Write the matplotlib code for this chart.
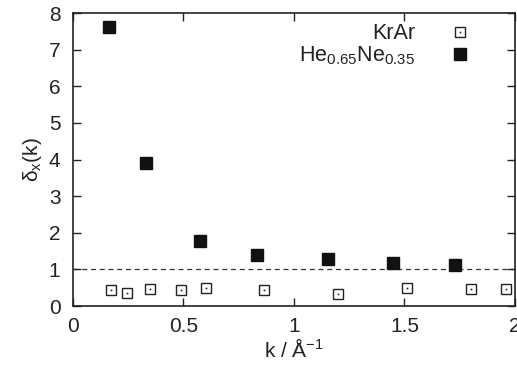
import matplotlib
matplotlib.use("Agg")
import matplotlib.pyplot as plt
from matplotlib.legend_handler import HandlerTuple

plt.rcParams['font.family'] = ['Liberation Sans', 'DejaVu Sans']
plt.rcParams['mathtext.fontset'] = 'custom'
plt.rcParams['mathtext.rm'] = 'Liberation Sans'
plt.rcParams['mathtext.it'] = 'Liberation Sans:italic'
plt.rcParams['mathtext.bf'] = 'Liberation Sans:bold'

# Data
krar_k = [0.172, 0.243, 0.347, 0.489, 0.600, 0.866, 1.200, 1.510, 1.800, 1.960]
krar_d = [0.43, 0.36, 0.47, 0.44, 0.49, 0.44, 0.32, 0.49, 0.47, 0.47]
hene_k = [0.163, 0.329, 0.573, 0.831, 1.155, 1.449, 1.727]
hene_d = [7.62, 3.91, 1.78, 1.39, 1.29, 1.18, 1.13]
xticks = [0, 0.5, 1, 1.5, 2]
xticklabels = ['0', '0.5', '1', '1.5', '2']
yticks = [0, 1, 2, 3, 4, 5, 6, 7, 8]

fig = plt.figure(figsize=(5.17, 3.76), dpi=100)
ax = fig.add_axes([0.141, 0.186, 0.855, 0.779])

ax.axhline(1.0, color='#333333', lw=0.9, ls=(0, (4, 3)), zorder=1)

sq, = ax.plot(krar_k, krar_d, ls='none', marker='s', ms=7.5, mfc='none',
              mec='#222222', mew=1.0, zorder=3)
dot, = ax.plot(krar_k, krar_d, ls='none', marker='s', ms=1.2, mfc='#222222',
               mec='none', zorder=3)
fill, = ax.plot(hene_k, hene_d, ls='none', marker='s', ms=8, mfc='#111111',
                mec='#111111', zorder=3)

ax.set_xlim(0, 2)
ax.set_ylim(0, 8)
ax.set_xticks(xticks)
ax.set_xticklabels(xticklabels)
ax.set_yticks(yticks)
ax.tick_params(direction='in', length=6, width=1.0, top=True, right=True,
               labelsize=15, colors='#222222')
ax.tick_params(axis='x', pad=8)
ax.tick_params(axis='y', pad=9)
for s in ax.spines.values():
    s.set_linewidth(1.2)
    s.set_color('#222222')

ax.set_xlabel('k / Å$^{-1}$', fontsize=15, labelpad=1, color='#222222')
ax.set_ylabel('δ$_{\\mathrm{x}}$(k)', fontsize=15, labelpad=3, color='#222222')

leg = ax.legend([(sq, dot), fill], ['KrAr', 'He$_{0.65}$Ne$_{0.35}$'],
                handler_map={tuple: HandlerTuple(ndivide=1)},
                loc='upper right', bbox_to_anchor=(0.93, 1.01),
                frameon=False, markerfirst=False, fontsize=15.5,
                handlelength=1.0, handletextpad=1.6, labelspacing=0.0,
                borderaxespad=0.2)
for t in leg.get_texts():
    t.set_color('#222222')

fig.savefig('out.png', dpi=100)
